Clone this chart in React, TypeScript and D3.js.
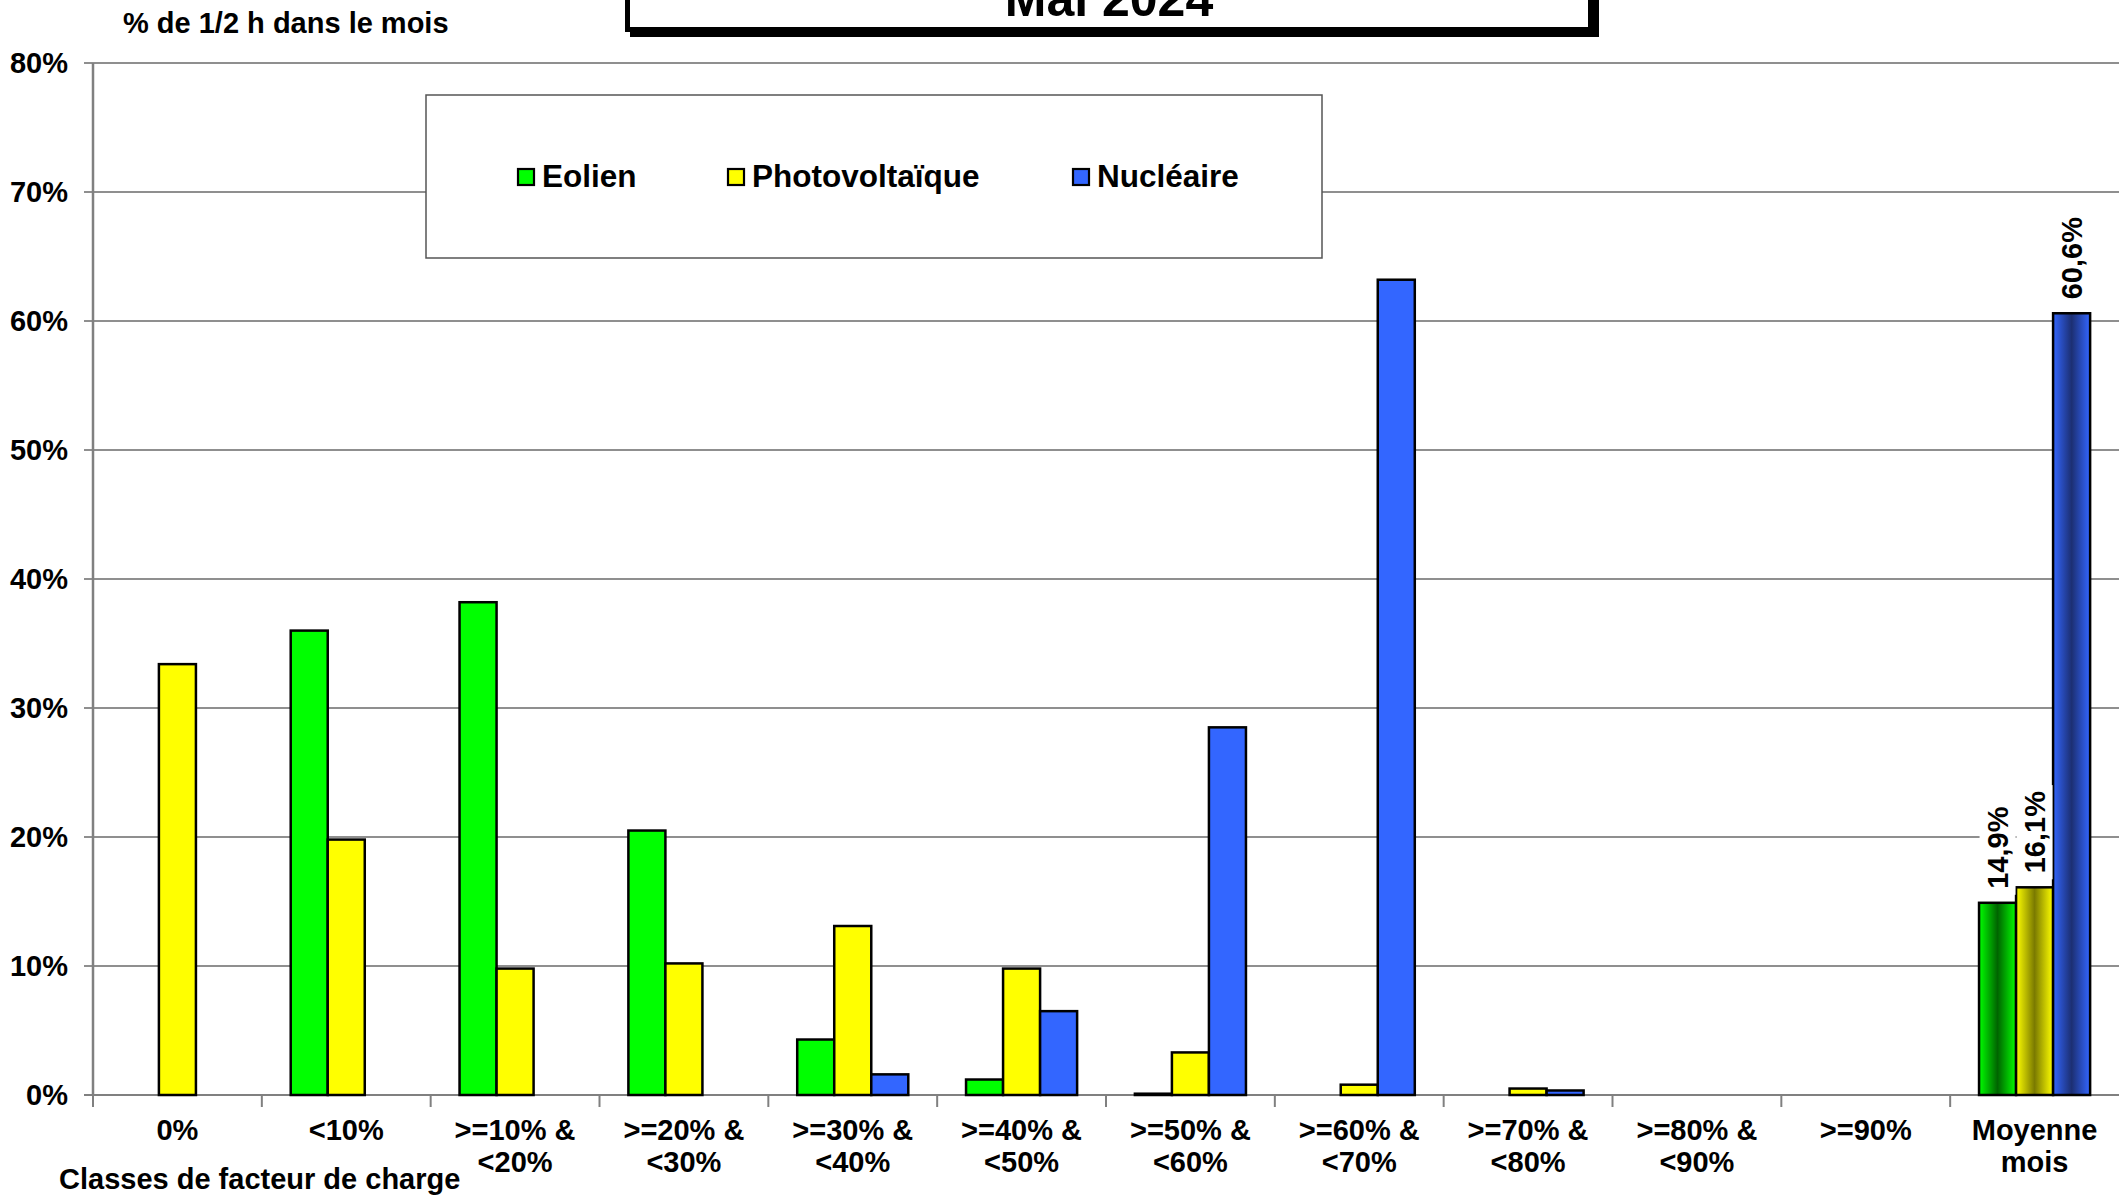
import React from 'react';
import * as d3 from 'd3';

const categories: string[][] = [
  ['0%'], ['<10%'], ['>=10% &', '<20%'], ['>=20% &', '<30%'], ['>=30% &', '<40%'],
  ['>=40% &', '<50%'], ['>=50% &', '<60%'], ['>=60% &', '<70%'], ['>=70% &', '<80%'],
  ['>=80% &', '<90%'], ['>=90%'], ['Moyenne', 'mois'],
];
const eolien = [0, 36.0, 38.2, 20.5, 4.3, 1.2, 0.1, 0, 0, 0, 0, 14.9];
const photovoltaique = [33.4, 19.8, 9.8, 10.2, 13.1, 9.8, 3.3, 0.8, 0.5, 0, 0, 16.1];
const nucleaire = [0, 0, 0, 0, 1.6, 6.5, 28.5, 63.2, 0.35, 0, 0, 60.6];
const seriesNames = ['Eolien', 'Photovoltaïque', 'Nucléaire'];
const yTicks = [0, 10, 20, 30, 40, 50, 60, 70, 80];
const title = 'Mai 2024';
const yTitle = '% de 1/2 h dans le mois';
const xTitle = 'Classes de facteur de charge';

const W = 2119;
const H = 1195;
const FONT = 'Liberation Sans, Arial, sans-serif';
const colors = ['#00ff00', '#ffff00', '#3366ff'];
const darks = ['#006400', '#7a7a00', '#1c2f72'];

export default function App() {
  const series = [eolien, photovoltaique, nucleaire];
  const idx = categories.map((_, i) => String(i));
  const x = d3.scaleBand<string>().domain(idx).range([93, 2119]).paddingInner(0).paddingOuter(0);
  const xs = d3.scaleBand<string>().domain(['0', '1', '2']).range([0, x.bandwidth()]).paddingInner(0).paddingOuter(0.78);
  const y = d3.scaleLinear().domain([0, 80]).range([1095, 63]);
  const fmt = (v: number) => d3.format('.1f')(v).replace('.', ',') + '%';
  const lastIdx = categories.length - 1;
  const fs = 29;

  return (
    <svg width={W} height={H} style={{ position: 'absolute', left: 0, top: 0, background: '#fff' }} fontFamily={FONT}>
      <defs>
        {colors.map((c, i) => (
          <linearGradient key={i} id={`grad${i}`} x1="0" x2="1" y1="0" y2="0">
            <stop offset="0" stopColor={c} />
            <stop offset="0.5" stopColor={darks[i]} />
            <stop offset="1" stopColor={c} />
          </linearGradient>
        ))}
      </defs>
      <rect x={0} y={0} width={W} height={H} fill="#fff" />
      {/* gridlines */}
      {yTicks.map((t) => (
        <g key={t}>
          <line x1={84} x2={W} y1={y(t)} y2={y(t)} stroke={t === 0 ? '#808080' : '#6a6a6a'} strokeWidth={t === 0 ? 2 : 1.3} />
          <text x={68} y={y(t)} dy="0.36em" textAnchor="end" fontSize={fs} fontWeight="bold">{t}%</text>
        </g>
      ))}
      {/* y axis */}
      <line x1={93} x2={93} y1={y(80)} y2={y(0) + 1} stroke="#808080" strokeWidth={2.5} />
      {/* x ticks */}
      {idx.map((k) => (
        <line key={k} x1={x(k)!} x2={x(k)!} y1={y(0)} y2={y(0) + 12} stroke="#808080" strokeWidth={2} />
      ))}
      {/* legend */}
      <rect x={426} y={95} width={896} height={163} fill="#fff" stroke="#555" strokeWidth={1.5} />
      {seriesNames.map((n, i) => {
        const lx = [518, 728, 1073][i];
        return (
          <g key={n}>
            <rect x={lx} y={169} width={16} height={16} fill={colors[i]} stroke="#000" strokeWidth={2.2} />
            <text x={lx + 24} y={187} fontSize={31.5} fontWeight="bold">{n}</text>
          </g>
        );
      })}
      {/* bars */}
      {series.map((s, si) =>
        s.map((v, ci) => {
          if (v <= 0) return null;
          const bx = x(String(ci))! + xs(String(si))!;
          const bw = xs.bandwidth();
          const top = y(v);
          const fill = ci === lastIdx ? `url(#grad${si})` : colors[si];
          return (
            <rect key={`${si}-${ci}`} x={bx} y={top} width={bw} height={Math.max(y(0) - top, 0.5)} fill={fill} stroke="#000" strokeWidth={2.5} />
          );
        })
      )}
      {/* data labels on Moyenne */}
      {series.map((s, si) => {
        const v = s[lastIdx];
        const cx = x(String(lastIdx))! + xs(String(si))! + xs.bandwidth() / 2;
        const base = y(v) - 14;
        const label = fmt(v);
        const len = label.length * 0.567 * fs;
        return (
          <g key={`lab${si}`}>
            <rect x={cx - 18} y={base - len - 6} width={36} height={len + 12} fill="#fff" />
            <text transform={`translate(${cx},${base}) rotate(-90)`} dy="0.36em" textAnchor="start" fontSize={fs} fontWeight="bold">{label}</text>
          </g>
        );
      })}
      {/* category labels */}
      {categories.map((lines, ci) => (
        <text key={ci} x={x(String(ci))! + x.bandwidth() / 2} y={1140} textAnchor="middle" fontSize={fs} fontWeight="bold">
          {lines.map((l, li) => (
            <tspan key={li} x={x(String(ci))! + x.bandwidth() / 2} dy={li === 0 ? 0 : 32}>{l}</tspan>
          ))}
        </text>
      ))}
      {/* axis titles */}
      <text x={123} y={33} fontSize={fs} fontWeight="bold">{yTitle}</text>
      <text x={59} y={1189} fontSize={fs} fontWeight="bold">{xTitle}</text>
      {/* title box */}
      <rect x={625} y={-40} width={5} height={72} fill="#000" />
      <rect x={630} y={27} width={969} height={10} fill="#000" />
      <rect x={1588} y={-40} width={11} height={77} fill="#000" />
      <rect x={630} y={-40} width={958} height={67} fill="#fff" />
      <text x={1109} y={16} textAnchor="middle" fontSize={50} fontWeight="bold">{title}</text>
    </svg>
  );
}
